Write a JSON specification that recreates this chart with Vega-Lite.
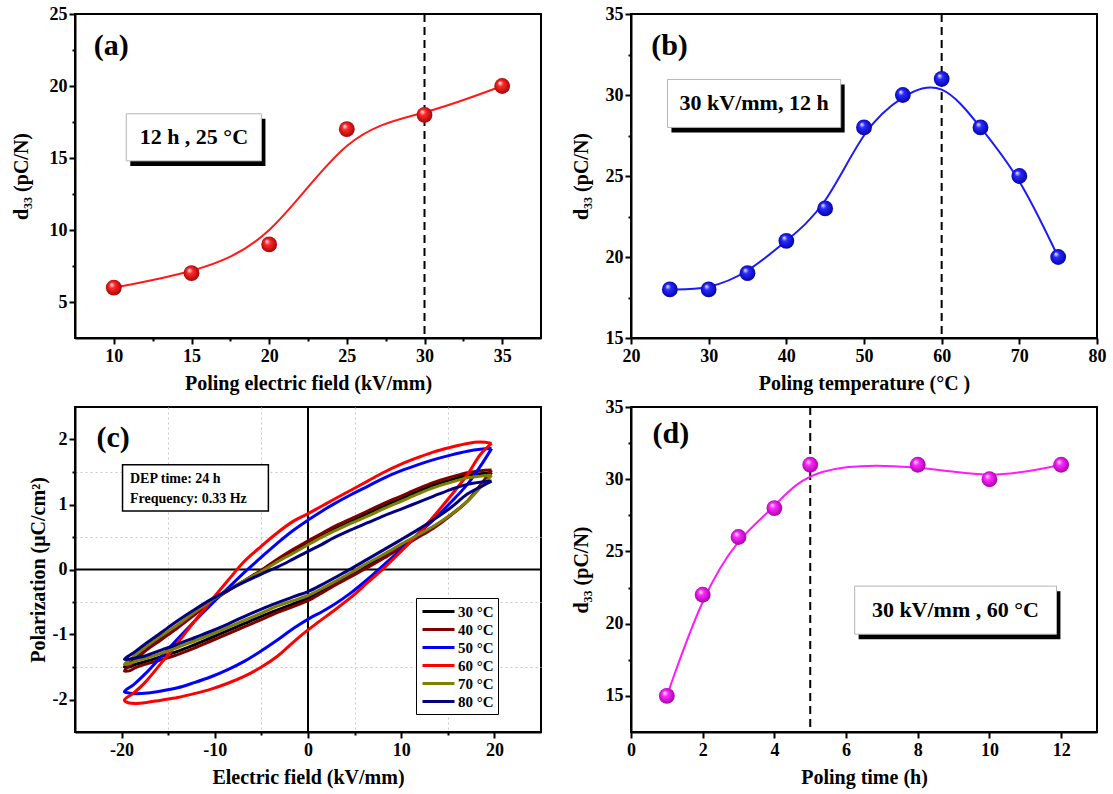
{
  "$schema": "https://vega.github.io/schema/vega-lite/v6.json",
  "background": "white",
  "padding": {"left": 10, "top": 4, "right": 5, "bottom": 5},
  "config": {
    "font": "Liberation Serif",
    "view": {"stroke": "black", "strokeWidth": 2},
    "axis": {
      "labelFont": "Liberation Serif", "labelFontWeight": "bold", "labelFontSize": 18, "labelColor": "black",
      "titleFont": "Liberation Serif", "titleFontWeight": "bold", "titleFontSize": 20, "titleColor": "black",
      "domainColor": "black", "domainWidth": 2, "tickColor": "black", "tickWidth": 2,
      "grid": false, "labelPadding": 3, "labelFlush": false, "labelOverlap": false, "titlePadding": 8
    }
  },
  "datasets": {
    "a": [
      {"E": 10, "d": 6}, {"E": 15, "d": 7}, {"E": 20, "d": 9}, {"E": 25, "d": 17}, {"E": 30, "d": 18}, {"E": 35, "d": 20}
    ],
    "b": [
      {"T": 25, "d": 18}, {"T": 30, "d": 18}, {"T": 35, "d": 19}, {"T": 40, "d": 21}, {"T": 45, "d": 23}, {"T": 50, "d": 28},
      {"T": 55, "d": 30}, {"T": 60, "d": 31}, {"T": 65, "d": 28}, {"T": 70, "d": 25}, {"T": 75, "d": 20}
    ],
    "d": [
      {"t": 1, "d": 15}, {"t": 2, "d": 22}, {"t": 3, "d": 26}, {"t": 4, "d": 28}, {"t": 5, "d": 31}, {"t": 8, "d": 31}, {"t": 10, "d": 30}, {"t": 12, "d": 31}
    ],
    "loops": [
      {"T":"30 °C","i":0,"E":19.7,"P":1.49},{"T":"30 °C","i":1,"E":17.1,"P":1.45},{"T":"30 °C","i":2,"E":15.3,"P":1.38},{"T":"30 °C","i":3,"E":13.5,"P":1.3},{"T":"30 °C","i":4,"E":11.75,"P":1.2},{"T":"30 °C","i":5,"E":10,"P":1.09},{"T":"30 °C","i":6,"E":8.2,"P":0.98},{"T":"30 °C","i":7,"E":6.4,"P":0.86},{"T":"30 °C","i":8,"E":4.6,"P":0.74},{"T":"30 °C","i":9,"E":2.8,"P":0.62},{"T":"30 °C","i":10,"E":1.4,"P":0.52},{"T":"30 °C","i":11,"E":0,"P":0.41},{"T":"30 °C","i":12,"E":-1.6,"P":0.28},{"T":"30 °C","i":13,"E":-3.25,"P":0.14},{"T":"30 °C","i":14,"E":-5,"P":-0.02},{"T":"30 °C","i":15,"E":-6.8,"P":-0.17},{"T":"30 °C","i":16,"E":-8.6,"P":-0.32},{"T":"30 °C","i":17,"E":-10.4,"P":-0.49},{"T":"30 °C","i":18,"E":-12.2,"P":-0.68},{"T":"30 °C","i":19,"E":-14,"P":-0.87},{"T":"30 °C","i":20,"E":-15.75,"P":-1.04},{"T":"30 °C","i":21,"E":-17.5,"P":-1.22},{"T":"30 °C","i":22,"E":-18.7,"P":-1.37},{"T":"30 °C","i":23,"E":-19.7,"P":-1.5},
      {"T":"30 °C","i":24,"E":-19.2,"P":-1.5},{"T":"30 °C","i":25,"E":-18.5,"P":-1.46},{"T":"30 °C","i":26,"E":-17.5,"P":-1.42},{"T":"30 °C","i":27,"E":-15.75,"P":-1.34},{"T":"30 °C","i":28,"E":-14,"P":-1.26},{"T":"30 °C","i":29,"E":-12.2,"P":-1.16},{"T":"30 °C","i":30,"E":-10.4,"P":-1.05},{"T":"30 °C","i":31,"E":-8.6,"P":-0.94},{"T":"30 °C","i":32,"E":-6.8,"P":-0.83},{"T":"30 °C","i":33,"E":-5,"P":-0.72},{"T":"30 °C","i":34,"E":-3.25,"P":-0.62},{"T":"30 °C","i":35,"E":-1.6,"P":-0.53},{"T":"30 °C","i":36,"E":0,"P":-0.44},{"T":"30 °C","i":37,"E":1.4,"P":-0.33},{"T":"30 °C","i":38,"E":2.8,"P":-0.21},{"T":"30 °C","i":39,"E":4.6,"P":-0.07},{"T":"30 °C","i":40,"E":6.4,"P":0.07},{"T":"30 °C","i":41,"E":8.2,"P":0.21},{"T":"30 °C","i":42,"E":10,"P":0.36},{"T":"30 °C","i":43,"E":11.75,"P":0.51},{"T":"30 °C","i":44,"E":13.5,"P":0.66},{"T":"30 °C","i":45,"E":15.3,"P":0.84},{"T":"30 °C","i":46,"E":17.1,"P":1.05},{"T":"30 °C","i":47,"E":18.5,"P":1.28},{"T":"30 °C","i":48,"E":19.7,"P":1.49},

      {"T":"40 °C","i":0,"E":19.7,"P":1.53},{"T":"40 °C","i":1,"E":18.5,"P":1.52},{"T":"40 °C","i":2,"E":17.1,"P":1.49},{"T":"40 °C","i":3,"E":15.3,"P":1.42},{"T":"40 °C","i":4,"E":13.5,"P":1.34},{"T":"40 °C","i":5,"E":11.75,"P":1.24},{"T":"40 °C","i":6,"E":10,"P":1.13},{"T":"40 °C","i":7,"E":8.2,"P":1.02},{"T":"40 °C","i":8,"E":6.4,"P":0.9},{"T":"40 °C","i":9,"E":4.6,"P":0.78},{"T":"40 °C","i":10,"E":2.8,"P":0.66},{"T":"40 °C","i":11,"E":1.4,"P":0.55},{"T":"40 °C","i":12,"E":0,"P":0.44},{"T":"40 °C","i":13,"E":-1.6,"P":0.31},{"T":"40 °C","i":14,"E":-3.25,"P":0.16},{"T":"40 °C","i":15,"E":-5,"P":-0.01},{"T":"40 °C","i":16,"E":-6.8,"P":-0.17},{"T":"40 °C","i":17,"E":-8.6,"P":-0.33},{"T":"40 °C","i":18,"E":-10.4,"P":-0.5},{"T":"40 °C","i":19,"E":-12.2,"P":-0.7},{"T":"40 °C","i":20,"E":-14,"P":-0.9},{"T":"40 °C","i":21,"E":-15.75,"P":-1.08},{"T":"40 °C","i":22,"E":-17.5,"P":-1.26},{"T":"40 °C","i":23,"E":-18.7,"P":-1.42},{"T":"40 °C","i":24,"E":-19.7,"P":-1.56},
      {"T":"40 °C","i":25,"E":-19.2,"P":-1.56},{"T":"40 °C","i":26,"E":-18.5,"P":-1.51},{"T":"40 °C","i":27,"E":-17.5,"P":-1.46},{"T":"40 °C","i":28,"E":-15.75,"P":-1.39},{"T":"40 °C","i":29,"E":-14,"P":-1.31},{"T":"40 °C","i":30,"E":-12.2,"P":-1.21},{"T":"40 °C","i":31,"E":-10.4,"P":-1.1},{"T":"40 °C","i":32,"E":-8.6,"P":-0.99},{"T":"40 °C","i":33,"E":-6.8,"P":-0.88},{"T":"40 °C","i":34,"E":-5,"P":-0.77},{"T":"40 °C","i":35,"E":-3.25,"P":-0.66},{"T":"40 °C","i":36,"E":-1.6,"P":-0.57},{"T":"40 °C","i":37,"E":0,"P":-0.48},{"T":"40 °C","i":38,"E":1.4,"P":-0.37},{"T":"40 °C","i":39,"E":2.8,"P":-0.25},{"T":"40 °C","i":40,"E":4.6,"P":-0.11},{"T":"40 °C","i":41,"E":6.4,"P":0.03},{"T":"40 °C","i":42,"E":8.2,"P":0.18},{"T":"40 °C","i":43,"E":10,"P":0.34},{"T":"40 °C","i":44,"E":11.75,"P":0.49},{"T":"40 °C","i":45,"E":13.5,"P":0.64},{"T":"40 °C","i":46,"E":15.3,"P":0.83},{"T":"40 °C","i":47,"E":17.1,"P":1.05},{"T":"40 °C","i":48,"E":18.5,"P":1.3},{"T":"40 °C","i":49,"E":19.7,"P":1.53},

      {"T":"50 °C","i":0,"E":19.7,"P":1.86},{"T":"50 °C","i":1,"E":18.5,"P":1.85},{"T":"50 °C","i":2,"E":17.1,"P":1.82},{"T":"50 °C","i":3,"E":15.3,"P":1.76},{"T":"50 °C","i":4,"E":13.5,"P":1.69},{"T":"50 °C","i":5,"E":11.75,"P":1.61},{"T":"50 °C","i":6,"E":10,"P":1.52},{"T":"50 °C","i":7,"E":8.2,"P":1.41},{"T":"50 °C","i":8,"E":6.4,"P":1.28},{"T":"50 °C","i":9,"E":4.6,"P":1.15},{"T":"50 °C","i":10,"E":2.8,"P":1.01},{"T":"50 °C","i":11,"E":1.4,"P":0.89},{"T":"50 °C","i":12,"E":0,"P":0.76},{"T":"50 °C","i":13,"E":-1.6,"P":0.6},{"T":"50 °C","i":14,"E":-3.25,"P":0.41},{"T":"50 °C","i":15,"E":-5,"P":0.19},{"T":"50 °C","i":16,"E":-6.8,"P":-0.04},{"T":"50 °C","i":17,"E":-8.6,"P":-0.29},{"T":"50 °C","i":18,"E":-10.4,"P":-0.54},{"T":"50 °C","i":19,"E":-12.2,"P":-0.8},{"T":"50 °C","i":20,"E":-14,"P":-1.07},{"T":"50 °C","i":21,"E":-15.75,"P":-1.34},{"T":"50 °C","i":22,"E":-17.5,"P":-1.61},{"T":"50 °C","i":23,"E":-18.7,"P":-1.77},{"T":"50 °C","i":24,"E":-19.7,"P":-1.88},
      {"T":"50 °C","i":25,"E":-19.2,"P":-1.9},{"T":"50 °C","i":26,"E":-18.6,"P":-1.91},{"T":"50 °C","i":27,"E":-17.2,"P":-1.9},{"T":"50 °C","i":28,"E":-15.75,"P":-1.87},{"T":"50 °C","i":29,"E":-14,"P":-1.82},{"T":"50 °C","i":30,"E":-12.2,"P":-1.74},{"T":"50 °C","i":31,"E":-10.4,"P":-1.65},{"T":"50 °C","i":32,"E":-8.6,"P":-1.54},{"T":"50 °C","i":33,"E":-6.8,"P":-1.41},{"T":"50 °C","i":34,"E":-5,"P":-1.25},{"T":"50 °C","i":35,"E":-3.25,"P":-1.08},{"T":"50 °C","i":36,"E":-1.5,"P":-0.9},{"T":"50 °C","i":37,"E":0.3,"P":-0.74},{"T":"50 °C","i":38,"E":1.5,"P":-0.65},{"T":"50 °C","i":39,"E":2.8,"P":-0.54},{"T":"50 °C","i":40,"E":4.6,"P":-0.36},{"T":"50 °C","i":41,"E":6.4,"P":-0.15},{"T":"50 °C","i":42,"E":8.2,"P":0.08},{"T":"50 °C","i":43,"E":10,"P":0.31},{"T":"50 °C","i":44,"E":11.75,"P":0.54},{"T":"50 °C","i":45,"E":13.5,"P":0.77},{"T":"50 °C","i":46,"E":15.3,"P":1.03},{"T":"50 °C","i":47,"E":17.1,"P":1.31},{"T":"50 °C","i":48,"E":18.5,"P":1.59},{"T":"50 °C","i":49,"E":19.7,"P":1.86},

      {"T":"60 °C","i":0,"E":19.7,"P":1.94},{"T":"60 °C","i":1,"E":18.5,"P":1.96},{"T":"60 °C","i":2,"E":17.1,"P":1.94},{"T":"60 °C","i":3,"E":15.3,"P":1.88},{"T":"60 °C","i":4,"E":13.5,"P":1.81},{"T":"60 °C","i":5,"E":11.75,"P":1.72},{"T":"60 °C","i":6,"E":10,"P":1.62},{"T":"60 °C","i":7,"E":8.2,"P":1.5},{"T":"60 °C","i":8,"E":6.4,"P":1.36},{"T":"60 °C","i":9,"E":4.6,"P":1.22},{"T":"60 °C","i":10,"E":2.8,"P":1.08},{"T":"60 °C","i":11,"E":1.4,"P":0.97},{"T":"60 °C","i":12,"E":0,"P":0.86},{"T":"60 °C","i":13,"E":-1.6,"P":0.74},{"T":"60 °C","i":14,"E":-3.25,"P":0.57},{"T":"60 °C","i":15,"E":-5,"P":0.36},{"T":"60 °C","i":16,"E":-6.8,"P":0.13},{"T":"60 °C","i":17,"E":-8.6,"P":-0.17},{"T":"60 °C","i":18,"E":-10.4,"P":-0.48},{"T":"60 °C","i":19,"E":-12.2,"P":-0.8},{"T":"60 °C","i":20,"E":-14,"P":-1.13},{"T":"60 °C","i":21,"E":-15.75,"P":-1.44},{"T":"60 °C","i":22,"E":-17.5,"P":-1.74},{"T":"60 °C","i":23,"E":-18.7,"P":-1.9},{"T":"60 °C","i":24,"E":-19.7,"P":-2.01},
      {"T":"60 °C","i":25,"E":-19.3,"P":-2.05},{"T":"60 °C","i":26,"E":-18.4,"P":-2.06},{"T":"60 °C","i":27,"E":-17.5,"P":-2.05},{"T":"60 °C","i":28,"E":-15.75,"P":-2.01},{"T":"60 °C","i":29,"E":-14,"P":-1.97},{"T":"60 °C","i":30,"E":-12.2,"P":-1.91},{"T":"60 °C","i":31,"E":-10.4,"P":-1.84},{"T":"60 °C","i":32,"E":-8.6,"P":-1.75},{"T":"60 °C","i":33,"E":-6.8,"P":-1.64},{"T":"60 °C","i":34,"E":-5,"P":-1.5},{"T":"60 °C","i":35,"E":-3.25,"P":-1.33},{"T":"60 °C","i":36,"E":-1.6,"P":-1.12},{"T":"60 °C","i":37,"E":0,"P":-0.93},{"T":"60 °C","i":38,"E":1,"P":-0.82},{"T":"60 °C","i":39,"E":2.8,"P":-0.63},{"T":"60 °C","i":40,"E":4.6,"P":-0.43},{"T":"60 °C","i":41,"E":6.4,"P":-0.2},{"T":"60 °C","i":42,"E":8.2,"P":0.03},{"T":"60 °C","i":43,"E":10,"P":0.28},{"T":"60 °C","i":44,"E":11.75,"P":0.54},{"T":"60 °C","i":45,"E":13.5,"P":0.82},{"T":"60 °C","i":46,"E":15.3,"P":1.13},{"T":"60 °C","i":47,"E":17.1,"P":1.46},{"T":"60 °C","i":48,"E":18.5,"P":1.77},{"T":"60 °C","i":49,"E":19.7,"P":1.94},

      {"T":"70 °C","i":0,"E":19.7,"P":1.45},{"T":"70 °C","i":1,"E":17.1,"P":1.41},{"T":"70 °C","i":2,"E":15.3,"P":1.34},{"T":"70 °C","i":3,"E":13.5,"P":1.26},{"T":"70 °C","i":4,"E":11.75,"P":1.16},{"T":"70 °C","i":5,"E":10,"P":1.05},{"T":"70 °C","i":6,"E":8.2,"P":0.94},{"T":"70 °C","i":7,"E":6.4,"P":0.82},{"T":"70 °C","i":8,"E":4.6,"P":0.71},{"T":"70 °C","i":9,"E":2.8,"P":0.59},{"T":"70 °C","i":10,"E":1.4,"P":0.49},{"T":"70 °C","i":11,"E":0,"P":0.38},{"T":"70 °C","i":12,"E":-1.6,"P":0.25},{"T":"70 °C","i":13,"E":-3.25,"P":0.12},{"T":"70 °C","i":14,"E":-5,"P":-0.03},{"T":"70 °C","i":15,"E":-6.8,"P":-0.17},{"T":"70 °C","i":16,"E":-8.6,"P":-0.32},{"T":"70 °C","i":17,"E":-10.4,"P":-0.48},{"T":"70 °C","i":18,"E":-12.2,"P":-0.66},{"T":"70 °C","i":19,"E":-14,"P":-0.85},{"T":"70 °C","i":20,"E":-15.75,"P":-1.02},{"T":"70 °C","i":21,"E":-17.5,"P":-1.2},{"T":"70 °C","i":22,"E":-18.7,"P":-1.34},{"T":"70 °C","i":23,"E":-19.7,"P":-1.46},
      {"T":"70 °C","i":24,"E":-19.2,"P":-1.45},{"T":"70 °C","i":25,"E":-18.5,"P":-1.41},{"T":"70 °C","i":26,"E":-17.5,"P":-1.37},{"T":"70 °C","i":27,"E":-15.75,"P":-1.29},{"T":"70 °C","i":28,"E":-14,"P":-1.2},{"T":"70 °C","i":29,"E":-12.2,"P":-1.1},{"T":"70 °C","i":30,"E":-10.4,"P":-1.0},{"T":"70 °C","i":31,"E":-8.6,"P":-0.89},{"T":"70 °C","i":32,"E":-6.8,"P":-0.78},{"T":"70 °C","i":33,"E":-5,"P":-0.67},{"T":"70 °C","i":34,"E":-3.25,"P":-0.56},{"T":"70 °C","i":35,"E":-1.6,"P":-0.48},{"T":"70 °C","i":36,"E":0,"P":-0.4},{"T":"70 °C","i":37,"E":1.4,"P":-0.3},{"T":"70 °C","i":38,"E":2.8,"P":-0.19},{"T":"70 °C","i":39,"E":4.6,"P":-0.05},{"T":"70 °C","i":40,"E":6.4,"P":0.1},{"T":"70 °C","i":41,"E":8.2,"P":0.24},{"T":"70 °C","i":42,"E":10,"P":0.39},{"T":"70 °C","i":43,"E":11.75,"P":0.53},{"T":"70 °C","i":44,"E":13.5,"P":0.67},{"T":"70 °C","i":45,"E":15.3,"P":0.84},{"T":"70 °C","i":46,"E":17.1,"P":1.05},{"T":"70 °C","i":47,"E":18.5,"P":1.26},{"T":"70 °C","i":48,"E":19.7,"P":1.45},

      {"T":"80 °C","i":0,"E":19.7,"P":1.36},{"T":"80 °C","i":1,"E":17.1,"P":1.31},{"T":"80 °C","i":2,"E":15.3,"P":1.23},{"T":"80 °C","i":3,"E":13.5,"P":1.13},{"T":"80 °C","i":4,"E":11.75,"P":1.03},{"T":"80 °C","i":5,"E":10,"P":0.93},{"T":"80 °C","i":6,"E":8.2,"P":0.83},{"T":"80 °C","i":7,"E":6.4,"P":0.72},{"T":"80 °C","i":8,"E":4.6,"P":0.61},{"T":"80 °C","i":9,"E":2.8,"P":0.49},{"T":"80 °C","i":10,"E":1.4,"P":0.38},{"T":"80 °C","i":11,"E":0,"P":0.28},{"T":"80 °C","i":12,"E":-1.6,"P":0.16},{"T":"80 °C","i":13,"E":-3.25,"P":0.04},{"T":"80 °C","i":14,"E":-5,"P":-0.07},{"T":"80 °C","i":15,"E":-6.8,"P":-0.19},{"T":"80 °C","i":16,"E":-8.6,"P":-0.32},{"T":"80 °C","i":17,"E":-10.4,"P":-0.46},{"T":"80 °C","i":18,"E":-12.2,"P":-0.62},{"T":"80 °C","i":19,"E":-14,"P":-0.79},{"T":"80 °C","i":20,"E":-15.75,"P":-0.97},{"T":"80 °C","i":21,"E":-17.5,"P":-1.15},{"T":"80 °C","i":22,"E":-18.7,"P":-1.28},{"T":"80 °C","i":23,"E":-19.7,"P":-1.38},
      {"T":"80 °C","i":24,"E":-19.2,"P":-1.38},{"T":"80 °C","i":25,"E":-18.5,"P":-1.36},{"T":"80 °C","i":26,"E":-17.5,"P":-1.33},{"T":"80 °C","i":27,"E":-15.75,"P":-1.24},{"T":"80 °C","i":28,"E":-14,"P":-1.15},{"T":"80 °C","i":29,"E":-12.2,"P":-1.05},{"T":"80 °C","i":30,"E":-10.4,"P":-0.95},{"T":"80 °C","i":31,"E":-8.6,"P":-0.84},{"T":"80 °C","i":32,"E":-6.8,"P":-0.72},{"T":"80 °C","i":33,"E":-5,"P":-0.61},{"T":"80 °C","i":34,"E":-3.25,"P":-0.51},{"T":"80 °C","i":35,"E":-1.6,"P":-0.42},{"T":"80 °C","i":36,"E":0,"P":-0.34},{"T":"80 °C","i":37,"E":1.4,"P":-0.24},{"T":"80 °C","i":38,"E":2.8,"P":-0.13},{"T":"80 °C","i":39,"E":4.6,"P":0.01},{"T":"80 °C","i":40,"E":6.4,"P":0.16},{"T":"80 °C","i":41,"E":8.2,"P":0.31},{"T":"80 °C","i":42,"E":10,"P":0.46},{"T":"80 °C","i":43,"E":11.75,"P":0.61},{"T":"80 °C","i":44,"E":13.5,"P":0.77},{"T":"80 °C","i":45,"E":15.3,"P":0.95},{"T":"80 °C","i":46,"E":17.1,"P":1.16},{"T":"80 °C","i":47,"E":18.5,"P":1.27},{"T":"80 °C","i":48,"E":19.7,"P":1.36}
    ]
  },
  "columns": 2,
  "spacing": {"row": 69, "column": 90},
  "bounds": "flush",
  "concat": [
        {
          "width": 466, "height": 324,
          "layer": [
            {"data": {"values": [{}]}, "mark": {"type": "rule", "color": "black", "strokeWidth": 2, "strokeDash": [8, 5]},
             "encoding": {"x": {"datum": 30, "type": "quantitative", "scale": {"domain": [7.5, 37.5], "nice": false, "zero": false}}}},
            {"data": {"name": "a"}, "mark": {"type": "line", "interpolate": "basis", "color": "#ff1a1a", "strokeWidth": 2},
             "encoding": {
               "x": {"field": "E", "type": "quantitative", "scale": {"domain": [7.5, 37.5], "nice": false, "zero": false},
                     "axis": {"title": "Poling electric field (kV/mm)", "values": [10,12.5,15,17.5,20,22.5,25,27.5,30,32.5,35],
                              "labelOverlap": false, "labelExpr": "datum.value % 5 === 0 ? datum.label : ''",
                              "tickSize": {"condition": {"test": "datum.value % 5 === 0", "value": 6}, "value": 3}}},
               "y": {"field": "d", "type": "quantitative", "scale": {"domain": [2.5, 25], "nice": false, "zero": false},
                     "axis": {"title": "d₃₃ (pC/N)", "values": [5,7.5,10,12.5,15,17.5,20,22.5,25], "titlePadding": 18, "labelPadding": 2,
                              "labelOverlap": false, "labelExpr": "datum.value % 5 === 0 ? datum.label : ''",
                              "tickSize": {"condition": {"test": "datum.value % 5 === 0", "value": 6}, "value": 3}}}
             }},
            {"data": {"name": "a"}, "mark": {"type": "point", "filled": true, "size": 250, "opacity": 1, "strokeWidth": 0,
               "fill": {"gradient": "radial", "x1": 0.35, "y1": 0.3, "r1": 0.02, "x2": 0.5, "y2": 0.5, "r2": 0.55,
                        "stops": [{"offset": 0, "color": "#ffe6e6"}, {"offset": 0.3, "color": "#ff2a2a"}, {"offset": 1, "color": "#a00000"}]}},
             "encoding": {"x": {"field": "E", "type": "quantitative"}, "y": {"field": "d", "type": "quantitative"}}},
            {"data": {"values": [{}]}, "mark": {"type": "rect", "fill": "black"},
             "encoding": {"x": {"datum": 11.06, "type": "quantitative"}, "x2": {"datum": 19.76}, "y": {"datum": 17.72, "type": "quantitative"}, "y2": {"datum": 14.45}}},
            {"data": {"values": [{}]}, "mark": {"type": "rect", "fill": "white", "stroke": "#b4b4b4", "strokeWidth": 1},
             "encoding": {"x": {"datum": 10.8, "type": "quantitative"}, "x2": {"datum": 19.5}, "y": {"datum": 18.07, "type": "quantitative"}, "y2": {"datum": 14.8}}},
            {"data": {"values": [{}]}, "mark": {"type": "text", "text": "12 h , 25 °C", "font": "Liberation Serif", "fontWeight": "bold", "fontSize": 22, "align": "center", "baseline": "middle", "color": "black"},
             "encoding": {"x": {"datum": 15.15, "type": "quantitative"}, "y": {"datum": 16.43, "type": "quantitative"}}},
            {"data": {"values": [{}]}, "mark": {"type": "text", "text": "(a)", "font": "Liberation Serif", "fontWeight": "bold", "fontSize": 30, "align": "left", "baseline": "middle", "color": "black"},
             "encoding": {"x": {"datum": 8.7, "type": "quantitative"}, "y": {"datum": 22.8, "type": "quantitative"}}}
          ]
        },
        {
          "width": 466, "height": 324,
          "layer": [
            {"data": {"values": [{}]}, "mark": {"type": "rule", "color": "black", "strokeWidth": 2, "strokeDash": [8, 5]},
             "encoding": {"x": {"datum": 60, "type": "quantitative", "scale": {"domain": [20, 80], "nice": false, "zero": false}}}},
            {"data": {"name": "b"}, "mark": {"type": "line", "interpolate": "basis", "color": "#1a1aff", "strokeWidth": 2},
             "encoding": {
               "x": {"field": "T", "type": "quantitative", "scale": {"domain": [20, 80], "nice": false, "zero": false},
                     "axis": {"title": "Poling temperature (°C )", "values": [20,25,30,35,40,45,50,55,60,65,70,75,80],
                              "labelOverlap": false, "labelExpr": "datum.value % 10 === 0 ? datum.label : ''",
                              "tickSize": {"condition": {"test": "datum.value % 10 === 0", "value": 6}, "value": 3}}},
               "y": {"field": "d", "type": "quantitative", "scale": {"domain": [15, 35], "nice": false, "zero": false},
                     "axis": {"title": "d₃₃ (pC/N)", "values": [15,17.5,20,22.5,25,27.5,30,32.5,35], "titlePadding": 14, "labelPadding": 2,
                              "labelOverlap": false, "labelExpr": "datum.value % 5 === 0 ? datum.label : ''",
                              "tickSize": {"condition": {"test": "datum.value % 5 === 0", "value": 6}, "value": 3}}}
             }},
            {"data": {"name": "b"}, "mark": {"type": "point", "filled": true, "size": 250, "opacity": 1, "strokeWidth": 0,
               "fill": {"gradient": "radial", "x1": 0.35, "y1": 0.3, "r1": 0.02, "x2": 0.5, "y2": 0.5, "r2": 0.55,
                        "stops": [{"offset": 0, "color": "#e6e6ff"}, {"offset": 0.3, "color": "#2a2aff"}, {"offset": 1, "color": "#0000a0"}]}},
             "encoding": {"x": {"field": "T", "type": "quantitative"}, "y": {"field": "d", "type": "quantitative"}}},
            {"data": {"values": [{}]}, "mark": {"type": "rect", "fill": "black"},
             "encoding": {"x": {"datum": 25.21, "type": "quantitative"}, "x2": {"datum": 47.51}, "y": {"datum": 30.65, "type": "quantitative"}, "y2": {"datum": 27.69}}},
            {"data": {"values": [{}]}, "mark": {"type": "rect", "fill": "white", "stroke": "#b4b4b4", "strokeWidth": 1},
             "encoding": {"x": {"datum": 24.7, "type": "quantitative"}, "x2": {"datum": 47.0}, "y": {"datum": 30.96, "type": "quantitative"}, "y2": {"datum": 28.0}}},
            {"data": {"values": [{}]}, "mark": {"type": "text", "text": "30 kV/mm, 12 h", "font": "Liberation Serif", "fontWeight": "bold", "fontSize": 22, "align": "center", "baseline": "middle", "color": "black"},
             "encoding": {"x": {"datum": 35.85, "type": "quantitative"}, "y": {"datum": 29.48, "type": "quantitative"}}},
            {"data": {"values": [{}]}, "mark": {"type": "text", "text": "(b)", "font": "Liberation Serif", "fontWeight": "bold", "fontSize": 30, "align": "left", "baseline": "middle", "color": "black"},
             "encoding": {"x": {"datum": 22.6, "type": "quantitative"}, "y": {"datum": 33.0, "type": "quantitative"}}}
          ]
        },
        {
          "width": 466, "height": 325,
          "layer": [
            {"data": {"values": [{}]}, "mark": {"type": "rule", "color": "black", "strokeWidth": 2},
             "encoding": {"x": {"datum": 0, "type": "quantitative", "scale": {"domain": [-25, 25], "nice": false, "zero": false}}}},
            {"data": {"values": [{}]}, "mark": {"type": "rule", "color": "black", "strokeWidth": 2},
             "encoding": {"y": {"datum": 0, "type": "quantitative", "scale": {"domain": [-2.5, 2.5], "nice": false, "zero": false}}}},
            {"data": {"name": "loops"}, "mark": {"type": "line", "interpolate": "catmull-rom", "strokeWidth": 3},
             "encoding": {
               "x": {"field": "E", "type": "quantitative", "scale": {"domain": [-25, 25], "nice": false, "zero": false},
                     "axis": {"title": "Electric field (kV/mm)", "values": [-20,-15,-10,-5,0,5,10,15,20],
                              "labelOverlap": false, "labelExpr": "datum.value % 10 === 0 ? (datum.value < 0 ? '-' + abs(datum.value) : '' + datum.value) : ''",
                              "tickSize": {"condition": {"test": "datum.value % 10 === 0", "value": 6}, "value": 3},
                              "grid": true, "gridDash": [2, 3], "gridWidth": 1,
                              "gridColor": {"condition": {"test": "abs(datum.value) % 10 === 5", "value": "#c8c8c8"}, "value": "transparent"}}},
               "y": {"field": "P", "type": "quantitative", "scale": {"domain": [-2.5, 2.5], "nice": false, "zero": false},
                     "axis": {"title": "Polarization (μC/cm²)", "values": [-2,-1.5,-1,-0.5,0,0.5,1,1.5,2], "titlePadding": 4, "labelPadding": 2,
                              "labelOverlap": false, "labelExpr": "datum.value % 1 === 0 ? (datum.value < 0 ? '-' + abs(datum.value) : '' + datum.value) : ''",
                              "tickSize": {"condition": {"test": "datum.value % 1 === 0", "value": 6}, "value": 3},
                              "grid": true, "gridDash": [2, 3], "gridWidth": 1,
                              "gridColor": {"condition": {"test": "abs(datum.value) % 1 === 0.5", "value": "#c8c8c8"}, "value": "transparent"}}},
               "order": {"field": "i", "type": "quantitative"},
               "color": {"field": "T", "type": "nominal",
                         "scale": {"domain": ["30 °C", "40 °C", "50 °C", "60 °C", "70 °C", "80 °C"], "range": ["#000000", "#800000", "#0000ff", "#ff0000", "#808000", "#000080"]},
                         "legend": {"orient": "none", "legendX": 341, "legendY": 584, "title": null, "symbolType": "M-2,0H2", "symbolSize": 256, "symbolStrokeWidth": 3,
                                    "symbolFillColor": "transparent", "symbolOffset": 9, "labelOffset": 10,
                                    "labelFont": "Liberation Serif", "labelFontWeight": "bold", "labelFontSize": 15, "labelColor": "black",
                                    "strokeColor": "black", "fillColor": "white", "padding": 4, "rowPadding": 0}}
             }},
            {"data": {"values": [{}]}, "mark": {"type": "rect", "fill": "white", "stroke": "black", "strokeWidth": 1.5},
             "encoding": {"x": {"datum": -19.9, "type": "quantitative"}, "x2": {"datum": -4.25}, "y": {"datum": 1.61, "type": "quantitative"}, "y2": {"datum": 0.9}}},
            {"data": {"values": [{}]}, "mark": {"type": "text", "text": "DEP time: 24 h", "font": "Liberation Serif", "fontWeight": "bold", "fontSize": 14, "align": "left", "baseline": "middle", "color": "black"},
             "encoding": {"x": {"datum": -19.1, "type": "quantitative"}, "y": {"datum": 1.39, "type": "quantitative"}}},
            {"data": {"values": [{}]}, "mark": {"type": "text", "text": "Frequency: 0.33 Hz", "font": "Liberation Serif", "fontWeight": "bold", "fontSize": 14, "align": "left", "baseline": "middle", "color": "black"},
             "encoding": {"x": {"datum": -19.1, "type": "quantitative"}, "y": {"datum": 1.09, "type": "quantitative"}}},
            {"data": {"values": [{}]}, "mark": {"type": "text", "text": "(c)", "font": "Liberation Serif", "fontWeight": "bold", "fontSize": 30, "align": "left", "baseline": "middle", "color": "black"},
             "encoding": {"x": {"datum": -22.7, "type": "quantitative"}, "y": {"datum": 2.02, "type": "quantitative"}}}
          ]
        },
        {
          "width": 466, "height": 325,
          "layer": [
            {"data": {"values": [{}]}, "mark": {"type": "rule", "color": "black", "strokeWidth": 2, "strokeDash": [8, 5]},
             "encoding": {"x": {"datum": 5, "type": "quantitative", "scale": {"domain": [0, 13], "nice": false, "zero": false}}}},
            {"data": {"name": "d"}, "mark": {"type": "line", "interpolate": "basis", "color": "#ff1aff", "strokeWidth": 2},
             "encoding": {
               "x": {"field": "t", "type": "quantitative", "scale": {"domain": [0, 13], "nice": false, "zero": false},
                     "axis": {"title": "Poling time (h)", "values": [0,1,2,3,4,5,6,7,8,9,10,11,12],
                              "labelOverlap": false, "labelExpr": "datum.value % 2 === 0 ? datum.label : ''",
                              "tickSize": {"condition": {"test": "datum.value % 2 === 0", "value": 6}, "value": 3}}},
               "y": {"field": "d", "type": "quantitative", "scale": {"domain": [12.5, 35], "nice": false, "zero": false},
                     "axis": {"title": "d₃₃ (pC/N)", "values": [15,17.5,20,22.5,25,27.5,30,32.5,35], "titlePadding": 14, "labelPadding": 2,
                              "labelOverlap": false, "labelExpr": "datum.value % 5 === 0 ? datum.label : ''",
                              "tickSize": {"condition": {"test": "datum.value % 5 === 0", "value": 6}, "value": 3}}}
             }},
            {"data": {"name": "d"}, "mark": {"type": "point", "filled": true, "size": 250, "opacity": 1, "strokeWidth": 0,
               "fill": {"gradient": "radial", "x1": 0.35, "y1": 0.3, "r1": 0.02, "x2": 0.5, "y2": 0.5, "r2": 0.55,
                        "stops": [{"offset": 0, "color": "#ffe6ff"}, {"offset": 0.3, "color": "#ff2aff"}, {"offset": 1, "color": "#a000a0"}]}},
             "encoding": {"x": {"field": "t", "type": "quantitative"}, "y": {"field": "d", "type": "quantitative"}}},
            {"data": {"values": [{}]}, "mark": {"type": "rect", "fill": "black"},
             "encoding": {"x": {"datum": 6.35, "type": "quantitative"}, "x2": {"datum": 11.98}, "y": {"datum": 22.25, "type": "quantitative"}, "y2": {"datum": 18.92}}},
            {"data": {"values": [{}]}, "mark": {"type": "rect", "fill": "white", "stroke": "#b4b4b4", "strokeWidth": 1},
             "encoding": {"x": {"datum": 6.24, "type": "quantitative"}, "x2": {"datum": 11.87}, "y": {"datum": 22.6, "type": "quantitative"}, "y2": {"datum": 19.27}}},
            {"data": {"values": [{}]}, "mark": {"type": "text", "text": "30 kV/mm , 60 °C", "font": "Liberation Serif", "fontWeight": "bold", "fontSize": 22, "align": "center", "baseline": "middle", "color": "black"},
             "encoding": {"x": {"datum": 9.05, "type": "quantitative"}, "y": {"datum": 20.93, "type": "quantitative"}}},
            {"data": {"values": [{}]}, "mark": {"type": "text", "text": "(d)", "font": "Liberation Serif", "fontWeight": "bold", "fontSize": 30, "align": "left", "baseline": "middle", "color": "black"},
             "encoding": {"x": {"datum": 0.6, "type": "quantitative"}, "y": {"datum": 33.1, "type": "quantitative"}}}
          ]
        }
  ]
}
